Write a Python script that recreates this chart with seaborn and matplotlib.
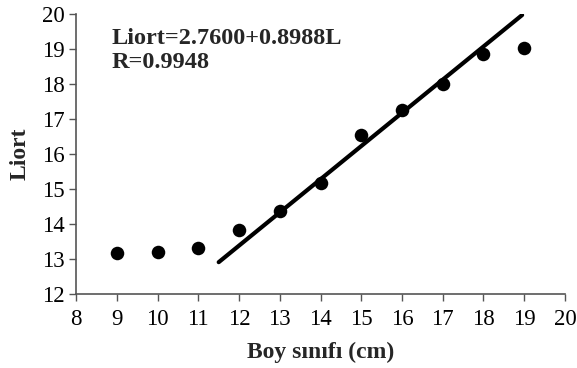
import matplotlib
matplotlib.use("Agg")
import matplotlib.pyplot as plt
import seaborn as sns
import pandas as pd

sizes = [9, 10, 11, 12, 13, 14, 15, 16, 17, 18, 19]
liort = [13.17, 13.19, 13.31, 13.83, 14.37, 15.17, 16.54, 17.25, 18.0, 18.86, 19.02]
fit_x = [11.5, 18.95]
fit_y = [12.91, 19.97]
x_ticks = list(range(8, 21))
y_ticks = list(range(12, 21))

sns.set_theme(style="ticks")
plt.rcParams['font.family'] = ['Liberation Serif', 'DejaVu Serif']

fig = plt.figure(figsize=(5.77, 3.68), dpi=100)
ax = fig.add_axes([0.132, 0.201, 0.847, 0.761])

df = pd.DataFrame({"x": sizes, "y": liort})
sns.scatterplot(data=df, x="x", y="y", ax=ax, color="black", s=95, edgecolor="black", linewidth=0, zorder=3)
sns.lineplot(x=fit_x, y=fit_y, ax=ax, color="black", linewidth=3.0, zorder=2)

ax.set_xlim(8, 20)
ax.set_ylim(12, 20)
ax.set_xticks(x_ticks)
ax.set_yticks(y_ticks)
ax.tick_params(axis="both", labelsize=16.5, direction="out", length=5, width=1, color="#555555", labelcolor="black")
ax.tick_params(axis="x", pad=6)
for s in ["top", "right"]:
    ax.spines[s].set_visible(False)
for s in ["left", "bottom"]:
    ax.spines[s].set_color("#555555")
    ax.spines[s].set_linewidth(1.2)

ax.set_xlabel("Boy sınıfı (cm)", fontsize=17, fontweight="bold", labelpad=8)
ax.set_ylabel("Liort", fontsize=17, fontweight="bold", labelpad=8)

ax.text(0.072, 0.87, "Liort=2.7600+0.8988L\nR=0.9948", transform=ax.transAxes,
        fontsize=17.5, fontweight="bold", va="center", ha="left", linespacing=1.15)

fig.savefig("out.png", dpi=100)
